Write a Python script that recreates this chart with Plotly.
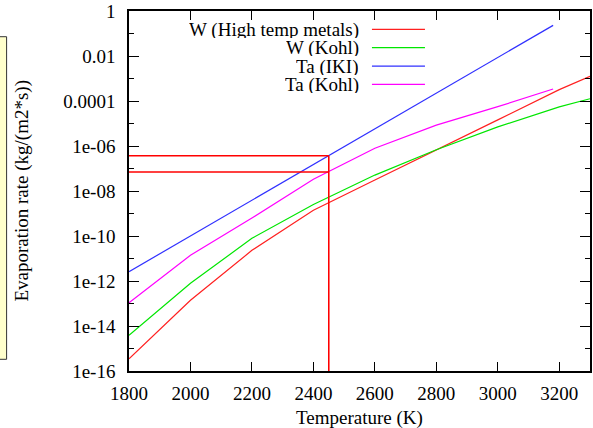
import plotly.graph_objects as go

# ---- data ----
T_w = [1800, 2000, 2200, 2400, 2600, 2800, 3000, 3200, 3300]
w_htm = [3.5e-16, 1.4e-13, 2.3e-11, 1.4e-9, 3.1e-8, 7.0e-7, 1.45e-5, 3.2e-4, 1.26e-3]
w_kohl = [3.9e-15, 7.9e-13, 7.9e-11, 2.5e-9, 5.1e-8, 6.8e-7, 7.1e-6, 5.5e-5, 1.26e-4]

T_ta = [1800, 2000, 2200, 2400, 2600, 2800, 3000, 3180]
ta_iki = [2.6e-12, 1.0e-10, 3.9e-9, 1.5e-7, 5.8e-6, 2.2e-4, 8.7e-3, 0.23]
ta_kohl = [1.07e-13, 1.4e-11, 6.3e-10, 3.3e-8, 8.0e-7, 8.5e-6, 5.6e-5, 3.4e-4]

marker_T = 2450
marker_rates = [3.7e-7, 7e-8]

series_names = ["W (High temp metals)", "W (Kohl)", "Ta (IKI)", "Ta (Kohl)"]
series_colors = ["#ff2020", "#00e600", "#3030ff", "#ff00ff"]

x_ticks = [1800, 2000, 2200, 2400, 2600, 2800, 3000, 3200]
y_tick_vals = [1, 1e-2, 1e-4, 1e-6, 1e-8, 1e-10, 1e-12, 1e-14, 1e-16]
y_tick_text = ["1", "0.01", "0.0001", "1e-06", "1e-08", "1e-10", "1e-12", "1e-14", "1e-16"]
y_minor_vals = [1e-1, 1e-3, 1e-5, 1e-7, 1e-9, 1e-11, 1e-13, 1e-15]

FONT = "Liberation Serif"
FS = 19

fig = go.Figure()

xs = [T_w, T_w, T_ta, T_ta]
ys = [w_htm, w_kohl, ta_iki, ta_kohl]
for x, y, name, col in zip(xs, ys, series_names, series_colors):
    fig.add_trace(go.Scatter(x=x, y=y, mode="lines", name=name,
                             line=dict(color=col, width=1.2), showlegend=False))

# marker lines (crosshair at 2450 K)
for r in marker_rates:
    fig.add_trace(go.Scatter(x=[T_w[0], marker_T], y=[r, r], mode="lines",
                             line=dict(color="#ff0000", width=1.6), showlegend=False))
fig.add_trace(go.Scatter(x=[marker_T, marker_T], y=[y_tick_vals[-1], marker_rates[0]],
                         mode="lines", line=dict(color="#ff0000", width=1.6), showlegend=False))

# manual legend (text right-aligned, sample line on the right)
row_y = [0.949, 0.898, 0.847, 0.796]
for name, col, yy in zip(series_names, series_colors, row_y):
    fig.add_annotation(xref="paper", yref="paper", x=0.501, y=yy, text=name,
                       showarrow=False, xanchor="right", yanchor="middle",
                       height=17, valign="middle", borderpad=0,
                       font=dict(family=FONT, size=FS, color="black"))
    fig.add_shape(type="line", xref="paper", yref="paper", x0=0.527, x1=0.642,
                  y0=yy, y1=yy, line=dict(color=col, width=1.2))

# yellow box at the left edge
fig.add_shape(type="rect", xref="paper", yref="paper", x0=-0.35, x1=-0.2655,
              y0=0.0325, y1=0.9286, fillcolor="#ffffcc",
              line=dict(color="#333333", width=1), layer="below")

# axis titles
fig.add_annotation(xref="paper", yref="paper", x=-0.233, y=0.5,
                   text="Evaporation rate (kg/(m2*s))", textangle=-90,
                   showarrow=False, xanchor="center", yanchor="middle",
                   font=dict(family=FONT, size=FS, color="black"))
fig.add_annotation(xref="paper", yref="paper", x=0.5, y=-0.13,
                   text="Temperature (K)", showarrow=False,
                   xanchor="center", yanchor="middle",
                   font=dict(family=FONT, size=FS, color="black"))

fig.update_xaxes(range=[1800, 3300], tickvals=x_ticks, ticks="inside", ticklen=9,
                 tickwidth=1.3, tickcolor="black", showline=True, linecolor="black",
                 linewidth=1.5, mirror="ticks", showgrid=False, zeroline=False,
                 automargin=False, ticklabelstandoff=4,
                 tickfont=dict(family=FONT, size=FS, color="black"))
fig.update_yaxes(type="log", range=[-16, 0], tickvals=y_tick_vals, ticktext=y_tick_text,
                 ticks="inside", ticklen=10, tickwidth=1.3, tickcolor="black",
                 showline=True, linecolor="black", linewidth=1.5, mirror="ticks",
                 showgrid=False, zeroline=False, ticklabelstandoff=8, automargin=False,
                 minor=dict(tickvals=y_minor_vals, ticks="inside", ticklen=5,
                            tickwidth=1.3, tickcolor="black", showgrid=False),
                 tickfont=dict(family=FONT, size=FS, color="black"))

fig.update_layout(width=593, height=428, margin=dict(l=129, r=3, t=11, b=57, autoexpand=False),
                  plot_bgcolor="white", paper_bgcolor="white", showlegend=False)

fig.write_html("out.html", config={"displayModeBar": False},
               post_script="document.body.style.margin='0';document.body.style.overflow='hidden';")
